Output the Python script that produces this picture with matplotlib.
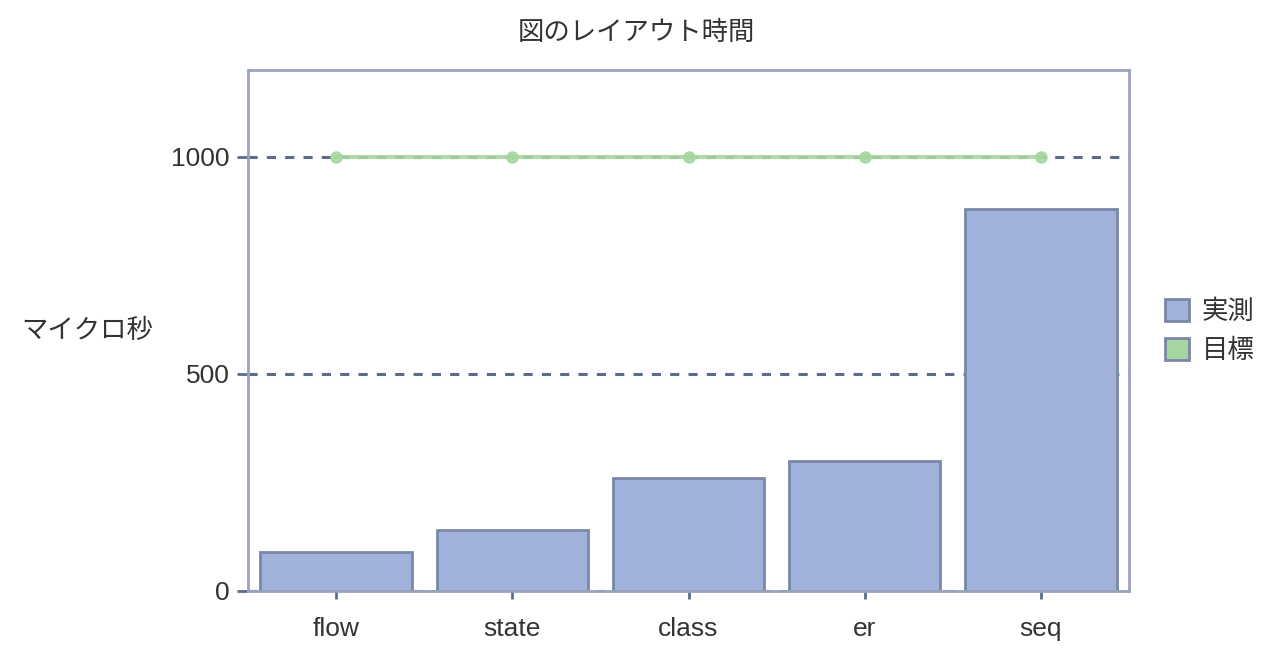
import matplotlib
matplotlib.use('Agg')
from matplotlib import pyplot as plt
from matplotlib.patches import Patch

plt.rcParams['font.family'] = ['Liberation Sans', 'Noto Sans CJK JP']

categories = ['flow', 'state', 'class', 'er', 'seq']
measured = [90, 140, 260, 300, 880]
target = [1000, 1000, 1000, 1000, 1000]
yticks = [0, 500, 1000]

bar_color = '#a0b2d9'
bar_edge = '#7a87a8'
line_color = '#a6d6a0'
grid_color = '#5d6a8c'
spine_color = '#9aa3bd'
text_color = '#333333'
fs = 19

fig = plt.figure(figsize=(12.73, 6.57), dpi=100)
ax = fig.add_axes([248 / 1273, 1 - 591 / 657, 881 / 1273, 521 / 657])

x = list(range(len(categories)))
ax.bar(x, measured, width=0.86, color=bar_color, edgecolor=bar_edge, linewidth=2, zorder=2)
ax.plot(x, target, color=line_color, linewidth=3, alpha=0.9, marker='o', markersize=8, zorder=3)

ax.set_xlim(-0.5, len(categories) - 0.5)
ax.set_ylim(0, 1200)
ax.set_yticks(yticks)
ax.set_xticks(x)
ax.set_xticklabels(categories)
for y in yticks:
    ax.axhline(y, color=grid_color, linestyle=(0, (3, 3)), linewidth=2.2, zorder=1)

for s in ax.spines.values():
    s.set_color(spine_color)
    s.set_linewidth(2)

ax.tick_params(axis='y', colors=grid_color, length=8, width=2, labelsize=fs, labelcolor=text_color, pad=5)
ax.tick_params(axis='x', colors=grid_color, length=6, width=2, labelsize=fs, labelcolor=text_color, pad=13)

fig.text(0.5, 1 - 33 / 657, '図のレイアウト時間', fontsize=fs, color=text_color, ha='center', va='center')
fig.text(87 / 1273, 1 - 331 / 657, 'マイクロ秒', fontsize=fs, color=text_color, ha='center', va='center')

handles = [Patch(facecolor=bar_color, edgecolor=bar_edge, linewidth=2),
           Patch(facecolor=line_color, edgecolor=bar_edge, linewidth=2)]
fig.legend(handles, ['実測', '目標'], loc='center left', bbox_to_anchor=(1141 / 1273, 1 - 331 / 657),
           frameon=False, fontsize=fs, handlelength=0.9, handleheight=0.9, handletextpad=0.5,
           labelspacing=0.55, labelcolor=text_color)

fig.savefig('out.png', dpi=100)
